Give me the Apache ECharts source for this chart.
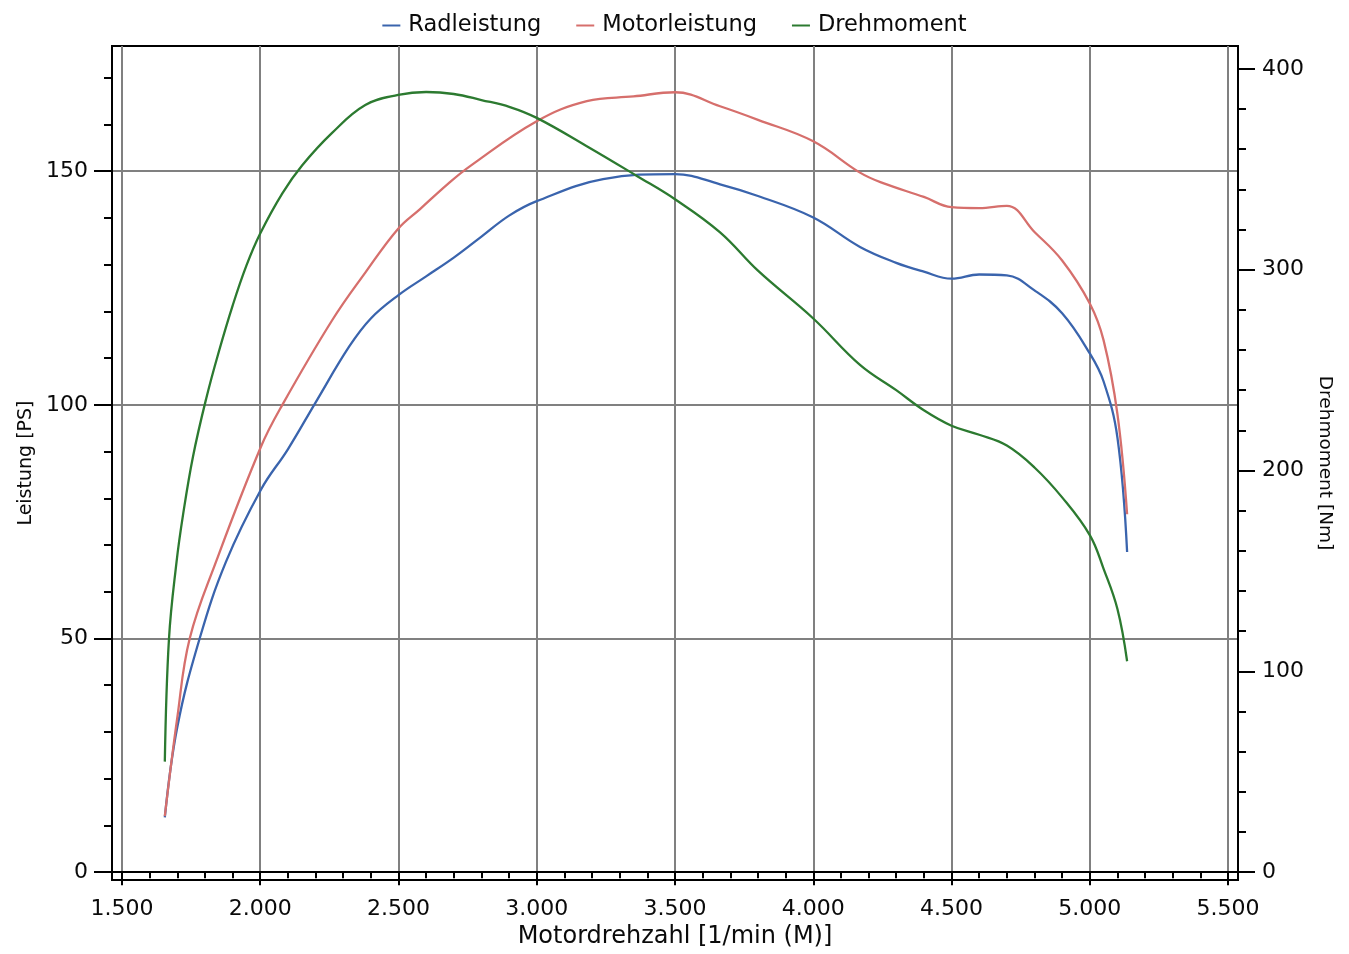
<!DOCTYPE html>
<html>
<head>
<meta charset="utf-8">
<script src="https://cdn.jsdelivr.net/npm/echarts@6/dist/echarts.min.js"></script>
<style>
html,body{margin:0;padding:0;background:#fff;}
#chart{width:1349px;height:954px;}
</style>
</head>
<body>
<div id="chart"></div>
<script>
// ---- data ----
const seriesNames = ['Radleistung', 'Motorleistung', 'Drehmoment'];

const rpmRad = [1655, 1700, 1781, 1876, 2003, 2100, 2200, 2322, 2400, 2500, 2600, 2700, 2800, 2900, 3000, 3240, 3500, 3663, 3800, 4000, 4169, 4300, 4400, 4500, 4600, 4700, 4800, 4900, 5000, 5050, 5100, 5135];
const radleistung = [11.7, 31, 50, 66.4, 81.9, 90.5, 100.5, 112.5, 118.5, 123.5, 127.5, 131.5, 136, 140.5, 143.6, 148.3, 149.4, 147.2, 144.7, 140.1, 133.8, 130.4, 128.5, 127, 127.9, 127.7, 124.5, 119.6, 111, 105, 93, 68.5];

const rpmMotor = [1655, 1700, 1745, 1840, 2003, 2080, 2259, 2380, 2499, 2578, 2679, 2759, 3000, 3181, 3350, 3500, 3663, 3800, 4000, 4169, 4250, 4400, 4500, 4600, 4700, 4800, 4900, 5000, 5050, 5100, 5135];
const motorleistung = [12, 33, 50, 66.4, 91.1, 100, 118, 128.3, 137.7, 141.9, 147.3, 151.1, 160.7, 165, 166, 166.9, 163.9, 161, 156.4, 149.7, 147.5, 144.5, 142.3, 142.1, 142.6, 137, 130.9, 121.7, 113.8, 98, 76.6];

const rpmTorque = [1655, 1670, 1697, 1721, 1757, 1805, 1850, 1900, 1950, 2000, 2080, 2152, 2259, 2380, 2499, 2600, 2700, 2800, 2903, 3000, 3181, 3362, 3500, 3663, 3800, 4000, 4169, 4300, 4400, 4500, 4600, 4700, 4800, 4900, 5000, 5050, 5100, 5135];
const drehmoment = [55, 116, 154, 178, 207, 236, 259, 282, 302, 318, 338, 352, 368, 382, 387, 388.5, 387.5, 384.5, 381, 375.6, 361.5, 346.7, 335.1, 318.6, 299.5, 275.7, 252.6, 240, 230, 222.3, 217.8, 212.4, 201.5, 186.6, 167.8, 151, 131, 105];

const xTicks = [1500, 2000, 2500, 3000, 3500, 4000, 4500, 5000, 5500];
const leftTicks = [0, 50, 100, 150];
const rightTicks = [0, 100, 200, 300, 400];

const xTitle = 'Motordrehzahl [1/min (M)]';
const leftTitle = 'Leistung [PS]';
const rightTitle = 'Drehmoment [Nm]';

// ---- helpers ----
function zip(xs, ys) { return xs.map((x, i) => [x, ys[i]]); }
function deFmt(v) {
  const s = String(Math.round(v));
  return s.replace(/\B(?=(\d{3})+(?!\d))/g, '.');
}

const FONT = 'DejaVu Sans';
const TXT = '#0a0a0a';
const colors = ['#3a64ad', '#d66f6c', '#2c7a30'];

const chart = echarts.init(document.getElementById('chart'), null, {renderer: 'canvas'});

const axisLineStyle = {color: '#000', width: 2};
const gridLineStyle = {color: '#808080', width: 2};

chart.setOption({
  animation: false,
  backgroundColor: '#fff',
  color: colors,
  legend: {
    top: 9,
    left: 'center',
    icon: 'rect',
    itemWidth: 18,
    itemHeight: 2,
    itemGap: 35,
    data: seriesNames,
    textStyle: {fontFamily: FONT, fontSize: 22.5, color: TXT, padding: [0, 0, 0, 3]}
  },
  grid: {
    left: 112, right: 111, top: 46, bottom: 69,
    show: true, borderColor: '#000', borderWidth: 2, backgroundColor: 'transparent',
    containLabel: false
  },
  xAxis: {
    type: 'value',
    min: 1464, max: 5536,
    splitNumber: 8,
    name: xTitle,
    nameLocation: 'middle',
    nameGap: 44,
    nameTextStyle: {fontFamily: FONT, fontSize: 24, color: TXT},
    axisLine: {show: true, lineStyle: axisLineStyle},
    axisTick: {show: true, length: 13, lineStyle: axisLineStyle, customValues: xTicks},
    minorTick: {show: true, splitNumber: 5, length: 6, lineStyle: axisLineStyle},
    axisLabel: {
      customValues: xTicks, margin: 18,
      fontFamily: FONT, fontSize: 22, color: TXT,
      formatter: v => deFmt(v)
    },
    splitLine: {show: true, lineStyle: gridLineStyle}
  },
  yAxis: [
    {
      type: 'value',
      position: 'left',
      min: -1.7, max: 176.8,
      splitNumber: 4,
      name: leftTitle,
      nameLocation: 'middle',
      nameRotate: 90,
      nameGap: 76,
      nameTextStyle: {fontFamily: FONT, fontSize: 19, color: TXT},
      axisLine: {show: true, lineStyle: axisLineStyle},
      axisTick: {show: true, length: 18, lineStyle: axisLineStyle, customValues: leftTicks},
      minorTick: {show: true, splitNumber: 5, length: 8, lineStyle: axisLineStyle},
      axisLabel: {customValues: leftTicks, margin: 24, fontFamily: FONT, fontSize: 22, color: TXT},
      splitLine: {show: true, lineStyle: gridLineStyle}
    },
    {
      type: 'value',
      position: 'right',
      min: -4, max: 411.4,
      splitNumber: 4,
      name: rightTitle,
      nameLocation: 'middle',
      nameRotate: -90,
      nameGap: 73,
      nameTextStyle: {fontFamily: FONT, fontSize: 18.5, color: TXT},
      axisLine: {show: true, lineStyle: axisLineStyle},
      axisTick: {show: true, length: 17, lineStyle: axisLineStyle, customValues: rightTicks},
      minorTick: {show: true, splitNumber: 5, length: 8, lineStyle: axisLineStyle},
      axisLabel: {customValues: rightTicks, margin: 24, fontFamily: FONT, fontSize: 22, color: TXT},
      splitLine: {show: false}
    }
  ],
  series: [
    {
      name: seriesNames[0], type: 'line', yAxisIndex: 0, smooth: 0.4, showSymbol: false, symbol: 'none',
      lineStyle: {width: 2.3, color: colors[0]}, itemStyle: {color: colors[0]},
      data: zip(rpmRad, radleistung), z: 3
    },
    {
      name: seriesNames[1], type: 'line', yAxisIndex: 0, smooth: 0.4, showSymbol: false, symbol: 'none',
      lineStyle: {width: 2.3, color: colors[1]}, itemStyle: {color: colors[1]},
      data: zip(rpmMotor, motorleistung), z: 3
    },
    {
      name: seriesNames[2], type: 'line', yAxisIndex: 1, smooth: 0.4, showSymbol: false, symbol: 'none',
      lineStyle: {width: 2.3, color: colors[2]}, itemStyle: {color: colors[2]},
      data: zip(rpmTorque, drehmoment), z: 3
    }
  ]
});
</script>
</body>
</html>
